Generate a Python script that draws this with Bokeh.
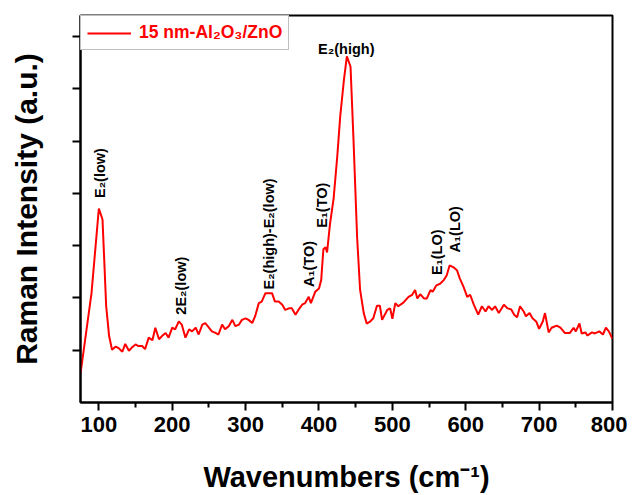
import math
from bokeh.plotting import figure
from bokeh.models import Range1d, FixedTicker, Legend, LegendItem
from bokeh.core.properties import value
from bokeh.embed import file_html
from bokeh.resources import INLINE

# Raman spectrum (wavenumber in cm^-1, intensity in a.u.)
wavenumber = [75, 90, 100, 105, 110, 114, 118, 123, 127, 132, 136, 141, 145, 150, 154, 159, 163, 168,
              173, 177, 182, 186, 191, 195, 200, 204, 209, 213, 218, 223, 227, 232, 236, 241, 245, 250,
              254, 259, 263, 268, 272, 277, 282, 286, 291, 295, 300, 304, 309, 313, 318, 322, 327, 331,
              336, 340, 345, 350, 354, 359, 363, 368, 372, 377, 381, 386, 389, 395, 400, 403, 406, 409,
              411, 415, 420, 425, 429, 434, 438, 443, 447, 452, 456, 461, 465, 470, 474, 479, 483, 486,
              493, 497, 500, 504, 508, 515, 522, 527, 531, 534, 538, 543, 547, 552, 555, 560, 565, 570,
              574, 578, 583, 588, 592, 597, 602, 606, 611, 617, 622, 627, 631, 636, 640, 645, 652, 657,
              662, 666, 670, 674, 679, 682, 687, 691, 696, 700, 705, 708, 713, 717, 724, 729, 735, 742,
              747, 750, 755, 758, 763, 766, 772, 776, 782, 787, 791, 795, 800]
intensity = [-0.45, 1.09, 2.71, 2.50, 0.84, 0.27, 0.01, 0.07, 0.04, -0.03, 0.12, -0.01, 0.05, 0.11, 0.08,
             0.08, 0.02, 0.24, 0.19, 0.43, 0.21, 0.27, 0.33, 0.24, 0.43, 0.40, 0.55, 0.49, 0.24, 0.40,
             0.36, 0.43, 0.30, 0.49, 0.52, 0.43, 0.36, 0.33, 0.30, 0.49, 0.40, 0.46, 0.58, 0.46, 0.49,
             0.58, 0.61, 0.58, 0.52, 0.65, 0.90, 0.93, 1.09, 1.09, 1.09, 0.93, 0.93, 0.87, 0.77, 0.80,
             0.80, 0.68, 0.77, 0.87, 0.90, 1.02, 0.90, 1.12, 1.18, 1.34, 1.93, 1.97, 1.87, 2.41, 2.91,
             3.72, 4.48, 5.17, 5.62, 5.42, 4.04, 2.15, 1.16, 0.71, 0.51, 0.55, 0.61, 0.85, 0.85, 0.58,
             0.77, 0.80, 0.60, 0.90, 0.84, 0.91, 1.02, 1.06, 1.15, 0.99, 1.07, 0.99, 0.99, 1.15, 1.12,
             1.24, 1.27, 1.34, 1.43, 1.62, 1.59, 1.53, 1.37, 1.21, 1.02, 1.06, 0.87, 0.68, 0.84, 0.74,
             0.84, 0.77, 0.84, 0.71, 0.87, 0.80, 0.78, 0.68, 0.63, 0.84, 0.74, 0.65, 0.71, 0.61, 0.55,
             0.41, 0.55, 0.71, 0.34, 0.43, 0.47, 0.43, 0.33, 0.33, 0.43, 0.36, 0.51, 0.32, 0.34, 0.28,
             0.34, 0.32, 0.36, 0.30, 0.43, 0.36, 0.22]

# Peak assignments (vertical labels)
peak_labels = ["E₂(low)", "2E₂(low)", "E₂(high)-E₂(low)", "A₁(TO)", "E₁(TO)", "E₁(LO)", "A₁(LO)"]
peak_x = [102.2, 212.5, 331.7, 386.1, 403.9, 560.4, 585.6]
peak_y = [2.91, 0.68, 1.16, 1.21, 2.34, 1.44, 1.87]
# Main peak label (horizontal)
top_label = ["E₂(high)"]
top_x = [437.2]
top_y = [5.75]

x_ticks = [100, 200, 300, 400, 500, 600, 700, 800]
x_minor = [150, 250, 350, 450, 550, 650, 750]
y_ticks = [0, 1, 2, 3, 4, 5, 6]
series_name = "15 nm-Al₂O₃/ZnO"

FONT = "'Liberation Sans', Arial, Helvetica, sans-serif"

p = figure(width=627, height=495, output_backend="svg", toolbar_location=None,
           x_range=Range1d(75, 800), y_range=Range1d(-1.0, 6.4),
           min_border_left=80, min_border_right=15, min_border_top=15, min_border_bottom=88)
p.background_fill_color = "white"
p.border_fill_color = "white"
p.outline_line_color = "black"
p.outline_line_width = 2
p.xgrid.visible = False
p.ygrid.visible = False

r = p.line(wavenumber, intensity, line_color="#ff0000", line_width=2)

# x axis
xa = p.xaxis[0]
xa.ticker = FixedTicker(ticks=x_ticks, minor_ticks=x_minor)
xa.axis_line_width = 2
xa.major_tick_line_width = 2
xa.minor_tick_line_width = 2
xa.major_tick_in = 0
xa.major_tick_out = 8
xa.minor_tick_in = 0
xa.minor_tick_out = 5
xa.major_label_text_font = FONT
xa.major_label_text_font_style = "bold"
xa.major_label_text_font_size = "22px"
xa.major_label_text_color = "black"
xa.major_label_standoff = 6
xa.axis_label = "Wavenumbers (cm⁻¹)"
xa.axis_label_text_font = FONT
xa.axis_label_text_font_style = "bold"
xa.axis_label_text_font_size = "29px"
xa.axis_label_text_color = "black"
xa.axis_label_standoff = 26

# y axis
ya = p.yaxis[0]
ya.ticker = FixedTicker(ticks=y_ticks, minor_ticks=[])
ya.major_label_overrides = {t: "" for t in y_ticks}
ya.axis_line_width = 2
ya.major_tick_line_width = 2
ya.major_tick_in = 0
ya.major_tick_out = 8
ya.minor_tick_in = 0
ya.minor_tick_out = 0
ya.major_label_standoff = 0
ya.axis_label = "Raman Intensity (a.u.)"
ya.axis_label_text_font = FONT
ya.axis_label_text_font_style = "bold"
ya.axis_label_text_font_size = "30px"
ya.axis_label_text_color = "black"
ya.axis_label_standoff = 30

# peak labels
p.text(x=peak_x, y=peak_y, text=peak_labels, angle=math.pi / 2,
       text_align="left", text_baseline="middle", text_color="black",
       text_font=value(FONT), text_font_style="bold", text_font_size="14.5px")
p.text(x=top_x, y=top_y, text=top_label, text_align="center", text_baseline="alphabetic",
       text_color="black", text_font=value(FONT), text_font_style="bold", text_font_size="14.5px")

legend = Legend(items=[LegendItem(label=series_name, renderers=[r])], location="top_left")
legend.margin = 0
legend.padding = 6
legend.spacing = 0
legend.glyph_width = 44
legend.glyph_height = 14
legend.label_height = 14
legend.label_standoff = 8
legend.label_text_font = FONT
legend.label_text_font_style = "bold"
legend.label_text_font_size = "17.5px"
legend.label_text_color = "#ff0000"
legend.border_line_color = "#808080"
legend.border_line_width = 1
legend.background_fill_color = "white"
legend.background_fill_alpha = 1.0
p.add_layout(legend)

open("out.html", "w").write(file_html(p, INLINE))
